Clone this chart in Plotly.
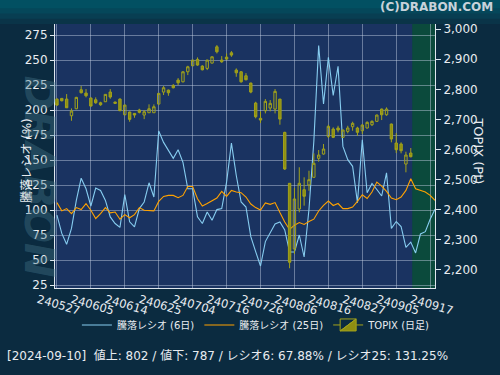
import plotly.graph_objects as go

# ---------------- data ----------------
tick_labels = ["240527", "240605", "240614", "240625", "240704", "240716",
               "240726", "240806", "240816", "240827", "240905", "240917"]
tick_pos = [0, 7, 14, 21, 28, 35, 42, 49, 56, 63, 70, 77]

topix_open = [2767.6, 2769.9, 2767.6, 2712.2, 2735.4, 2798.5, 2787.6, 2771.0, 2765.3, 2755.3,
              2758.7, 2790.9, 2757.7, 2767.6, 2715.5, 2724.5, 2720.0, 2731.1, 2714.5, 2722.2,
              2722.2, 2751.0, 2790.9, 2797.5, 2813.0, 2830.7, 2825.0, 2858.3, 2878.2, 2899.4,
              2877.2, 2869.5, 2887.1, 2941.2, 2897.1, 2907.0, 2921.3, 2863.9, 2858.3, 2845.0,
              2820.7, 2754.4, 2703.6, 2728.8, 2737.8, 2734.4, 2767.6, 2657.0, 2487.8, 2269.7,
              2402.5, 2466.6, 2482.2, 2507.7, 2570.8, 2585.0, 2643.8, 2668.0, 2671.4, 2640.5,
              2660.4, 2675.7, 2671.4, 2662.4, 2671.4, 2682.3, 2693.6, 2734.4, 2715.5, 2684.6,
              2621.6, 2618.3, 2551.9, 2588.4]
topix_close = [2747.7, 2762.0, 2738.7, 2727.8, 2773.3, 2788.5, 2778.6, 2744.4, 2755.3, 2748.7,
               2783.2, 2774.3, 2753.4, 2728.8, 2747.7, 2700.2, 2714.5, 2723.5, 2725.5, 2735.4,
               2742.1, 2786.6, 2805.2, 2788.5, 2805.2, 2821.7, 2858.3, 2874.9, 2897.1, 2880.5,
               2864.9, 2897.1, 2908.1, 2924.6, 2891.4, 2900.4, 2913.7, 2854.9, 2825.0, 2831.7,
               2790.9, 2708.9, 2697.9, 2760.0, 2753.4, 2793.2, 2701.0, 2535.3, 2225.5, 2435.7,
               2487.8, 2444.7, 2499.8, 2554.2, 2581.7, 2601.7, 2677.0, 2640.5, 2664.7, 2664.7,
               2671.4, 2687.0, 2657.1, 2681.3, 2690.3, 2693.6, 2714.5, 2715.5, 2734.4, 2634.9,
               2599.3, 2596.0, 2581.7, 2576.1]
topix_high = [2770.0, 2771.0, 2784.2, 2736.7, 2775.0, 2810.8, 2800.8, 2773.0, 2773.3, 2758.7,
              2784.0, 2800.8, 2759.0, 2770.0, 2749.0, 2726.0, 2721.0, 2735.4, 2731.0, 2750.0,
              2750.0, 2787.5, 2810.8, 2799.0, 2817.4, 2837.3, 2860.0, 2878.2, 2898.0, 2906.0,
              2880.0, 2898.0, 2909.0, 2946.9, 2910.4, 2919.3, 2927.0, 2869.5, 2860.0, 2854.0,
              2822.0, 2758.7, 2726.8, 2767.6, 2764.3, 2800.8, 2768.0, 2659.0, 2488.0, 2472.2,
              2541.0, 2507.7, 2529.6, 2587.4, 2598.3, 2618.3, 2682.3, 2673.7, 2679.0, 2666.0,
              2679.0, 2692.3, 2675.7, 2684.6, 2693.6, 2697.0, 2716.0, 2736.0, 2740.0, 2686.0,
              2654.8, 2623.9, 2592.7, 2605.0]
topix_low = [2744.5, 2760.0, 2738.0, 2695.6, 2734.0, 2786.6, 2773.3, 2743.0, 2752.0, 2745.4,
             2758.0, 2768.6, 2752.0, 2728.0, 2714.0, 2692.3, 2705.6, 2720.0, 2701.0, 2722.0,
             2722.0, 2750.0, 2781.0, 2778.6, 2803.0, 2814.1, 2823.0, 2847.3, 2877.0, 2878.2,
             2863.0, 2863.9, 2886.0, 2919.3, 2888.0, 2897.0, 2908.0, 2841.7, 2822.0, 2830.0,
             2787.0, 2703.6, 2688.0, 2720.0, 2726.8, 2720.0, 2682.4, 2532.0, 2205.6, 2253.1,
             2391.5, 2413.5, 2463.0, 2507.0, 2559.5, 2583.0, 2638.0, 2638.0, 2657.0, 2639.0,
             2653.8, 2662.4, 2645.8, 2651.4, 2670.0, 2678.0, 2692.0, 2697.9, 2712.2, 2623.9,
             2588.4, 2587.4, 2524.3, 2574.0]

ratio6 = [94.8, 76.6, 65.7, 81.6, 109.6, 131.8, 121.2, 104.0, 121.9, 119.6,
          109.6, 93.1, 86.5, 82.6, 115.3, 88.2, 83.2, 101.4, 108.0, 127.2,
          113.0, 179.0, 167.6, 160.2, 151.7, 160.2, 147.7, 121.2, 121.2, 93.1,
          86.5, 98.0, 89.8, 100.4, 101.4, 127.8, 166.9, 134.5, 108.0, 103.0,
          73.3, 58.4, 44.0, 68.4, 78.0, 86.0, 88.0, 80.0, 58.0, 58.0,
          75.0, 53.0, 100.7, 168.6, 264.4, 206.0, 252.6, 214.5, 243.6, 163.6,
          150.3, 143.7, 107.4, 170.2, 117.3, 126.5, 120.5, 114.0, 137.1, 81.6,
          88.5, 83.5, 62.6, 67.88, 57.1, 76.0, 78.3, 90.8, 100.7]
ratio25 = [107.4, 99.1, 101.4, 96.4, 102.4, 100.4, 106.4, 99.7, 91.5, 96.4,
           102.4, 97.1, 98.0, 90.8, 95.4, 92.2, 95.4, 102.4, 99.7, 99.1,
           99.1, 108.6, 113.6, 114.6, 114.6, 112.3, 114.6, 123.5, 123.5, 111.3,
           104.0, 106.4, 109.6, 112.0, 118.6, 113.6, 119.6, 118.0, 117.3, 113.0,
           106.0, 102.4, 100.0, 107.0, 105.7, 107.4, 97.4, 88.0, 80.5, 84.8,
           87.5, 85.5, 88.5, 90.8, 99.0, 104.7, 109.0, 104.5, 106.5, 101.4,
           101.4, 103.0, 108.6, 115.3, 111.5, 118.0, 127.9, 123.9, 118.6, 112.0,
           110.3, 113.0, 119.6, 131.25, 121.2, 119.6, 118.0, 114.6, 109.6]

status_date = "2024-09-10"
adv, dec = 802, 787

candle_x = list(range(len(topix_open)))
ratio_x = list(range(len(ratio6)))

FONT = "DejaVu Sans, Noto Sans CJK JP, sans-serif"
TXT = "#e8ecf0"

fig = go.Figure()

fig.add_trace(go.Scatter(
    x=ratio_x, y=ratio6, mode="lines", name="騰落レシオ (6日)",
    line=dict(color="#87cdf0", width=1.1),
))
fig.add_trace(go.Scatter(
    x=ratio_x, y=ratio25, mode="lines", name="騰落レシオ (25日)",
    line=dict(color="#ffa200", width=1.1),
))
fig.add_trace(go.Candlestick(
    x=candle_x, open=topix_open, high=topix_high, low=topix_low, close=topix_close,
    yaxis="y2", name="TOPIX (日足)",
    increasing=dict(line=dict(color="#a3a31a", width=1), fillcolor="rgba(0,0,0,0)"),
    decreasing=dict(line=dict(color="#a3a31a", width=1), fillcolor="#8e8e12"),
    whiskerwidth=0, showlegend=True,
))

shapes = []
# header gradient bands (top margin)
bands = ["#0a3448", "#083e52", "#05475a", "#025062"]
for k, c in enumerate(bands):
    shapes.append(dict(type="rect", xref="paper", yref="paper",
                       x0=-0.2, x1=1.2, y0=1.0 + 0.02 * k, y1=1.1,
                       fillcolor=c, line=dict(width=0), layer="below"))
# current-period green zone
shapes.append(dict(type="rect", xref="x", yref="paper",
                   x0=73.3, x1=78.0, y0=0, y1=1,
                   fillcolor="#0b4a3c", line=dict(width=0), layer="below"))

fig.update_layout(
    width=500, height=375,
    margin=dict(l=55, r=65, t=24, b=87, autoexpand=False),
    paper_bgcolor="#0b2b40",
    plot_bgcolor="#1a3361",
    font=dict(family=FONT, color=TXT, size=12),
    shapes=shapes,
    showlegend=True,
    legend=dict(orientation="h", x=0.53, xanchor="center", y=-0.14, yanchor="middle",
                font=dict(size=10, color=TXT), bgcolor="rgba(0,0,0,0)"),
    xaxis=dict(
        range=[-0.4, 78.0], tickmode="array", tickvals=tick_pos, ticktext=tick_labels,
        tickangle=16, tickfont=dict(size=11.5, color=TXT), automargin=False,
        ticklabelshift=-19, ticklabelstandoff=0,
        showgrid=True, gridcolor="rgba(200,210,230,0.45)", gridwidth=1,
        showline=True, linecolor="#dfe6ee", linewidth=1,
        ticks="", zeroline=False, rangeslider=dict(visible=False),
    ),
    yaxis=dict(
        range=[22, 286], tickmode="array", tickvals=list(range(25, 276, 25)),
        tickfont=dict(size=12, color=TXT), automargin=False,
        showgrid=True, gridcolor="rgba(200,210,230,0.45)", gridwidth=1,
        showline=True, linecolor="#dfe6ee", linewidth=1,
        ticks="outside", ticklen=4, tickcolor="#dfe6ee", zeroline=False,
    ),
    yaxis2=dict(
        range=[2140, 3017], overlaying="y", side="right",
        tickmode="array", tickvals=list(range(2200, 3001, 100)), tickformat=",d",
        tickfont=dict(size=12, color=TXT), showgrid=False, automargin=False,
        showline=True, linecolor="#dfe6ee", linewidth=1,
        ticks="outside", ticklen=5, tickcolor="#dfe6ee", zeroline=False,
    ),
    annotations=[
        dict(text="DRABON", xref="paper", yref="paper", x=-0.11, y=0.42,
             textangle=90, showarrow=False,
             font=dict(family="DejaVu Sans", size=42, color="rgba(70,120,140,0.40)",
                       weight="bold", style="italic")),
        dict(text="騰落レシオ (%)", xref="paper", yref="paper", x=-0.099, y=0.485,
             textangle=-90, showarrow=False, font=dict(size=12, color=TXT)),
        dict(text="TOPIX (Pt)", xref="paper", yref="paper", x=1.139, y=0.52,
             textangle=90, showarrow=False, font=dict(size=13, color=TXT)),
        dict(text="(C)DRABON.COM", xref="paper", yref="paper", x=1.158, y=1.064,
             xanchor="right", yanchor="middle", showarrow=False,
             font=dict(size=12, color="#c8d2da", weight="bold")),
        dict(text=f"[{status_date}]  値上: {adv} / 値下: {dec} / レシオ6: {ratio6[73]:.2f}% / レシオ25: {ratio25[73]:.2f}%",
             xref="paper", yref="paper", x=-0.132, y=-0.254, xanchor="left", yanchor="middle",
             showarrow=False, font=dict(size=12, color=TXT)),
    ],
)

fig.write_html("out.html", config={"displayModeBar": False})

# remove default page margin so the 500x375 figure fills the window exactly
with open("out.html", "r", encoding="utf-8") as fh:
    html = fh.read()
html = html.replace("<head>", "<head><style>html,body{margin:0;padding:0;background:#0b2b40;}</style>", 1)
with open("out.html", "w", encoding="utf-8") as fh:
    fh.write(html)
